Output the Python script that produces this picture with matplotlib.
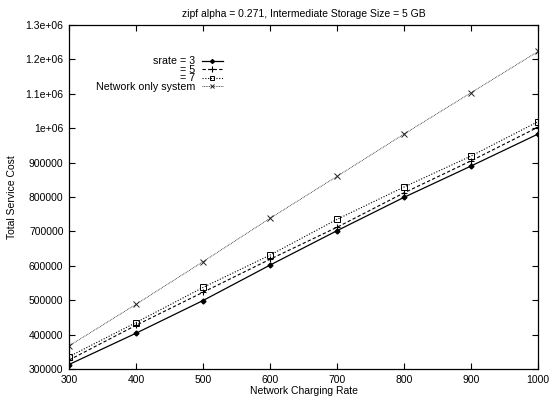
import matplotlib
matplotlib.use('Agg')
from matplotlib import pyplot as plt

plt.rcParams['font.family'] = ['Liberation Sans', 'DejaVu Sans']
plt.rcParams['font.size'] = 7.5

rates = [300, 400, 500, 600, 700, 800, 900, 1000]
srate3 = [313000, 404000, 499000, 602000, 702000, 799000, 890000, 983000]
srate5 = [326000, 427000, 523000, 619000, 712000, 812000, 905000, 1003000]
srate7 = [336000, 435000, 537000, 631000, 735000, 829000, 919000, 1019000]
network_only = [367000, 488000, 612000, 738000, 860000, 983000, 1103000, 1223000]

yticks = [300000, 400000, 500000, 600000, 700000, 800000, 900000,
          1000000, 1100000, 1200000, 1300000]
ytick_labels = ['300000', '400000', '500000', '600000', '700000', '800000',
                '900000', '1e+06', '1.1e+06', '1.2e+06', '1.3e+06']

fig = plt.figure(figsize=(5.49, 3.99), dpi=100)
ax = fig.add_axes([69 / 549, 30 / 399, 469 / 549, 344 / 399])

ax.plot(rates, srate3, color='black', lw=0.9, ls='-', marker='D', ms=2.5,
        label='srate = 3')
ax.plot(rates, srate5, color='black', lw=0.8, ls=(0, (3, 2)), marker='+', ms=5,
        mew=0.8, label='= 5')
ax.plot(rates, srate7, color='black', lw=0.8, ls=(0, (1, 1.5)), marker='s', ms=4,
        mfc='none', mew=0.7, label='= 7')
ax.plot(rates, network_only, color='#222222', lw=0.6, ls=(0, (1, 1)), marker='x',
        ms=4, mew=0.7, label='Network only system')

ax.set_xlim(300, 1000)
ax.set_ylim(300000, 1300000)
ax.set_xticks(rates)
ax.set_yticks(yticks)
ax.set_yticklabels(ytick_labels)
ax.tick_params(direction='in', top=True, right=True, length=4, width=0.8, pad=4,
               labelsize=7.5)
for s in ax.spines.values():
    s.set_linewidth(0.9)

ax.set_title('zipf alpha = 0.271, Intermediate Storage Size = 5 GB', fontsize=7.5, pad=6)
ax.set_xlabel('Network Charging Rate', labelpad=1)
ax.set_ylabel('Total Service Cost', labelpad=6)

leg = ax.legend(loc='upper right', bbox_to_anchor=(228 / 549, 348 / 399),
                bbox_transform=fig.transFigure, frameon=False, markerfirst=False,
                borderpad=0, handlelength=1.9, handletextpad=0.65, labelspacing=-0.14,
                markerscale=0.8, fontsize=7.7)

fig.savefig('out.png', dpi=100)
